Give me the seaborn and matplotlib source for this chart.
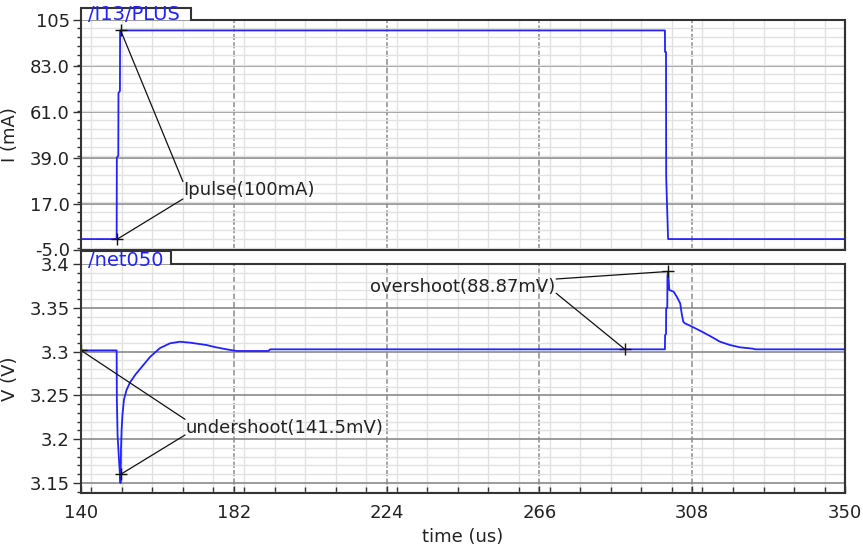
import matplotlib
matplotlib.use("Agg")
import matplotlib.pyplot as plt
import pandas as pd
import seaborn as sns
from matplotlib.ticker import FixedLocator, MultipleLocator

# ---- waveform data -------------------------------------------------------
# load current through /I13/PLUS (time in us, current in mA)
t_cur = [140.0, 149.8, 149.85, 150.25, 150.3, 150.7, 150.75,
         300.5, 300.53, 300.8, 300.85, 301.35, 301.4, 350.0]
i_cur = [0.0, 0.0, 39.0, 40.0, 70.0, 71.0, 100.0,
         100.0, 89.7, 89.7, 30.0, 1.0, 0.0, 0.0]

# regulator output /net050 (time in us, voltage in V)
t_out = [140.0, 149.8, 149.85, 150.05, 150.45, 150.85, 150.9, 151.0, 151.15,
         151.4, 151.8, 152.5, 153.5, 155.0, 157.0, 159.0, 161.7, 164.5,
         167.2, 170.0, 174.5, 177.0, 180.0, 182.8, 191.5, 192.0,
         300.5, 300.55, 300.8, 300.85, 301.15, 301.2, 301.4, 301.7, 302.9,
         303.75, 304.7, 305.1, 305.55, 306.0, 307.4, 310.15, 312.9, 315.65,
         318.4, 321.15, 324.8, 325.3, 350.0]
v_out = [3.3014, 3.3014, 3.247, 3.205, 3.176, 3.150, 3.155, 3.19, 3.21,
         3.228, 3.245, 3.256, 3.265, 3.274, 3.284, 3.294, 3.304, 3.3095,
         3.3113, 3.3102, 3.3075, 3.305, 3.3026, 3.3007, 3.3007, 3.3026,
         3.3026, 3.3189, 3.3200, 3.3494, 3.3500, 3.3874, 3.3905, 3.3703, 3.3684,
         3.3627, 3.3551, 3.3437, 3.3341, 3.3323, 3.3296, 3.3239, 3.3178, 3.3113,
         3.3075, 3.3049, 3.3033, 3.3026, 3.3026]

# measured quantities
pulse_amp = 100.0        # mA
pulse_base = 0.0         # mA
undershoot = 0.1415      # V
undershoot_ref = 3.3014  # V
overshoot = 0.08887      # V
overshoot_ref = 3.3026   # V

# ---- axis ticks ------------------------------------------------------------
x_ticks = [140, 182, 224, 266, 308, 350]
x_tick_labels = ["140", "182", "224", "266", "308", "350"]
i_ticks = [-5, 17, 39, 61, 83, 105]
i_tick_labels = ["-5.0", "17.0", "39.0", "61.0", "83.0", "105"]
v_ticks = [3.15, 3.2, 3.25, 3.3, 3.35, 3.4]
v_tick_labels = ["3.15", "3.2", "3.25", "3.3", "3.35", "3.4"]

# ---- styling ---------------------------------------------------------------
sns.set_theme(style="white")
plt.rcParams["font.family"] = ["DejaVu Sans"]

TRACE = "#2222ff"
SPINE = "#333333"
MAJOR = "#8a8a8a"
MINOR = "#e2e2e2"
FS = 13

W, H = 863, 550
fig = plt.figure(figsize=(W / 100, H / 100), dpi=100)
fig.patch.set_facecolor("white")

x0, x1 = 81, 845


def add_axes(top_px, bottom_px):
    return fig.add_axes([x0 / W, 1 - bottom_px / H,
                         (x1 - x0) / W, (bottom_px - top_px) / H])


ax_i = add_axes(20, 249.5)
ax_v = add_axes(264, 493)

df_i = pd.DataFrame({"time": t_cur, "I": i_cur})
df_v = pd.DataFrame({"time": t_out, "V": v_out})

sns.lineplot(data=df_i, x="time", y="I", ax=ax_i, sort=False, estimator=None,
             color=TRACE, lw=1.3)
sns.lineplot(data=df_v, x="time", y="V", ax=ax_v, sort=False, estimator=None,
             color=TRACE, lw=1.3)

ax_i.set_ylim(-5, 105)
ax_v.set_ylim(3.1386, 3.4)


def style_axes(ax, yticks, ylabels, yminor, ylabel, tab_text, tab_w_px,
               tab_h_px, text_dy_px, show_x):
    ax.set_xlim(140, 350)
    ax.xaxis.set_major_locator(FixedLocator(x_ticks))
    ax.xaxis.set_minor_locator(MultipleLocator(8.4))
    ax.yaxis.set_major_locator(FixedLocator(yticks))
    ax.yaxis.set_minor_locator(MultipleLocator(yminor))
    ax.set_yticklabels(ylabels, fontsize=FS, color="#222222")
    ax.set_axisbelow(True)
    ax.grid(which="minor", color=MINOR, lw=1.0)
    ax.xaxis.grid(which="major", color=MAJOR, lw=1.1, ls=(0, (4, 1.5)))
    ax.yaxis.grid(which="major", color=MAJOR, lw=1.2, ls="-")
    ax.tick_params(axis="y", which="major", direction="out", length=6,
                   width=1.0, color=SPINE, pad=2, left=True)
    ax.tick_params(axis="y", which="minor", direction="out", length=3,
                   width=1.0, color=SPINE, left=True)
    if show_x:
        ax.set_xticklabels(x_tick_labels, fontsize=FS, color="#222222")
        ax.tick_params(axis="x", which="major", direction="in", length=5,
                       width=1.0, color=SPINE, pad=8, bottom=True)
        ax.tick_params(axis="x", which="minor", direction="in", length=4,
                       width=1.0, color=SPINE, bottom=True)
        ax.set_xlabel("time (us)", fontsize=FS, color="#222222", labelpad=4)
    else:
        ax.tick_params(axis="x", which="both", length=0, labelbottom=False)
        ax.set_xlabel("")
    ax.set_ylabel(ylabel, fontsize=FS, color="#222222", labelpad=8)
    for side in ("left", "right", "bottom"):
        ax.spines[side].set_visible(True)
        ax.spines[side].set_color(SPINE)
        ax.spines[side].set_linewidth(1.5)
    ax.spines["top"].set_visible(False)

    # signal-name tab sitting on the top-left corner of the frame
    hx = (x1 - x0)
    bb = ax.get_position()
    hy = bb.height * H
    tw = tab_w_px / hx
    th = tab_h_px / hy
    ax.plot([0, 0, tw, tw, 1, 1], [1, 1 + th, 1 + th, 1, 1, 0],
            transform=ax.transAxes, color=SPINE, lw=1.5, clip_on=False,
            solid_joinstyle="miter")
    ax.text(7 / hx, 1 + text_dy_px / hy, tab_text, transform=ax.transAxes,
            color=TRACE, fontsize=14, ha="left", va="center")


style_axes(ax_i, i_ticks, i_tick_labels, 4.4, "I (mA)", "/I13/PLUS",
           110, 12, 5, False)
style_axes(ax_v, v_ticks, v_tick_labels, 0.01, "V (V)", "/net050",
           90, 13.5, 4, True)

# ---- measurement annotations ----------------------------------------------
ANN = "#111111"


def annotate(ax, pts, ends, label, tx, ty, ha):
    for (px, py), (ex, ey) in zip(pts, ends):
        ax.plot([px, ex], [py, ey], color=ANN, lw=0.9)
    ax.plot([p[0] for p in pts], [p[1] for p in pts], ls="none", marker="+",
            ms=9, mew=1.0, color=ANN)
    ax.text(tx, ty, label, fontsize=FS, color="#222222", ha=ha, va="center")


annotate(ax_i,
         [(150.9, pulse_base + pulse_amp), (150.0, pulse_base)],
         [(168.0, 27.6), (168.0, 19.2)],
         "Ipulse(100mA)", 168.0, 23.3, "left")

annotate(ax_v,
         [(140.0, undershoot_ref), (150.9, undershoot_ref - undershoot)],
         [(168.6, 3.2227), (168.6, 3.2048)],
         "undershoot(141.5mV)", 168.6, 3.2128, "left")

annotate(ax_v,
         [(301.4, overshoot_ref + overshoot), (289.5, overshoot_ref)],
         [(270.6, 3.3829), (270.6, 3.3666)],
         "overshoot(88.87mV)", 270.3, 3.3741, "right")

fig.savefig("out.png", dpi=100, facecolor="white")
